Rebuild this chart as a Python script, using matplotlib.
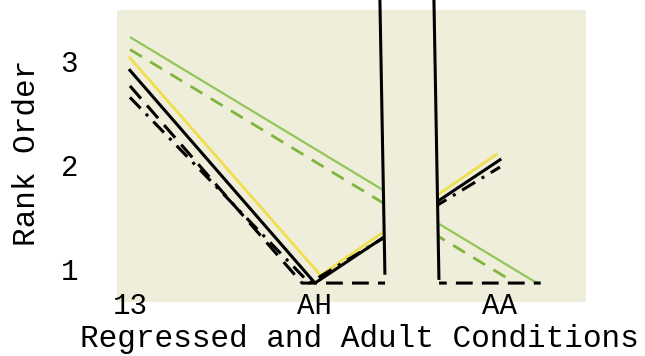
import matplotlib
matplotlib.use("Agg")
import matplotlib.pyplot as plt

# ---- data ----
conditions = ["13", "AH", "AA"]
cond_pos = [0, 1, 2]
y_ticks = [1, 2, 3]

green_solid_x = [0.0, 2.2]
green_solid_y = [3.23, 0.865]
green_dash_x = [0.0, 2.06]
green_dash_y = [3.11, 0.89]
yellow_x = [0.0, 1.03, 1.98]
yellow_y = [3.03, 0.94, 2.10]
black_solid_x = [0.0, 1.0, 2.0]
black_solid_y = [2.91, 0.865, 2.05]
black_dash_x = [0.0, 0.93, 2.22]
black_dash_y = [2.76, 0.865, 0.865]
black_dashdot_x = [0.0, 0.97, 2.0]
black_dashdot_y = [2.65, 0.865, 1.98]

# axis break (two hand-drawn vertical strokes)
break_left = (1.351, 1.378)   # x at top, x at bottom
break_right = (1.643, 1.670)

FONT = "Liberation Mono"
CREAM = "#efeedb"

fig = plt.figure(figsize=(6.45, 3.56), dpi=100, facecolor="white")
ax = fig.add_axes([117 / 645, 1 - 302 / 356, (586 - 117) / 645, (302 - 10) / 356])
ax.set_facecolor(CREAM)
for s in ax.spines.values():
    s.set_visible(False)

ymin, ymax = 0.683, 3.49
ax.set_xlim(-0.07, 2.465)
ax.set_ylim(ymin, ymax)

ax.plot(green_solid_x, green_solid_y, color="#94c55a", lw=1.6, solid_capstyle="butt")
ax.plot(green_dash_x, green_dash_y, color="#7fb53d", lw=2.0, dashes=(5, 3.5))
ax.plot(yellow_x, yellow_y, color="#f0df4c", lw=2.0)
ax.plot(black_solid_x, black_solid_y, color="black", lw=2.2)
ax.plot(black_dash_x, black_dash_y, color="black", lw=2.2, dashes=(5.5, 3))
ax.plot(black_dashdot_x, black_dashdot_y, color="black", lw=2.2, dashes=(5, 2.5, 1, 2.5))

# gap between the break strokes
ytop_line = 3.59
ybot_line = 0.94
def xat(b, y):
    return b[1] + (b[0] - b[1]) * (y - ybot_line) / (ytop_line - ybot_line)

poly_x = [xat(break_left, ymin), xat(break_left, ymax), xat(break_right, ymax), xat(break_right, ymin)]
poly_y = [ymin, ymax, ymax, ymin]
ax.fill(poly_x, poly_y, color=CREAM, zorder=5, lw=0)
ax.plot([break_left[0], break_left[1]], [ytop_line, ybot_line + 0.02], color="black", lw=2.2, zorder=6, clip_on=False)
ax.plot([break_right[0], break_right[1]], [ytop_line, ybot_line - 0.03], color="black", lw=2.2, zorder=6, clip_on=False)

ax.set_xticks(cond_pos)
ax.set_xticklabels(conditions, fontfamily=FONT, fontsize=21)
ax.set_yticks(y_ticks)
ax.set_yticklabels([str(v) for v in y_ticks], fontfamily=FONT, fontsize=21)
ax.tick_params(axis="x", length=0, pad=-7)
ax.tick_params(axis="y", length=0, pad=28)

ax.set_xlabel("Regressed and Adult Conditions", fontfamily=FONT, fontsize=22.4)
ax.xaxis.set_label_coords((359.5 - 117) / 469, -(339 - 302) / 292)
ax.xaxis.label.set_va("center")
ax.set_ylabel("Rank Order", fontfamily=FONT, fontsize=22.4)
ax.yaxis.set_label_coords((27 - 117) / 469, (302 - 153) / 292)
ax.yaxis.label.set_va("center")

fig.savefig("out.png", dpi=100, facecolor="white")
